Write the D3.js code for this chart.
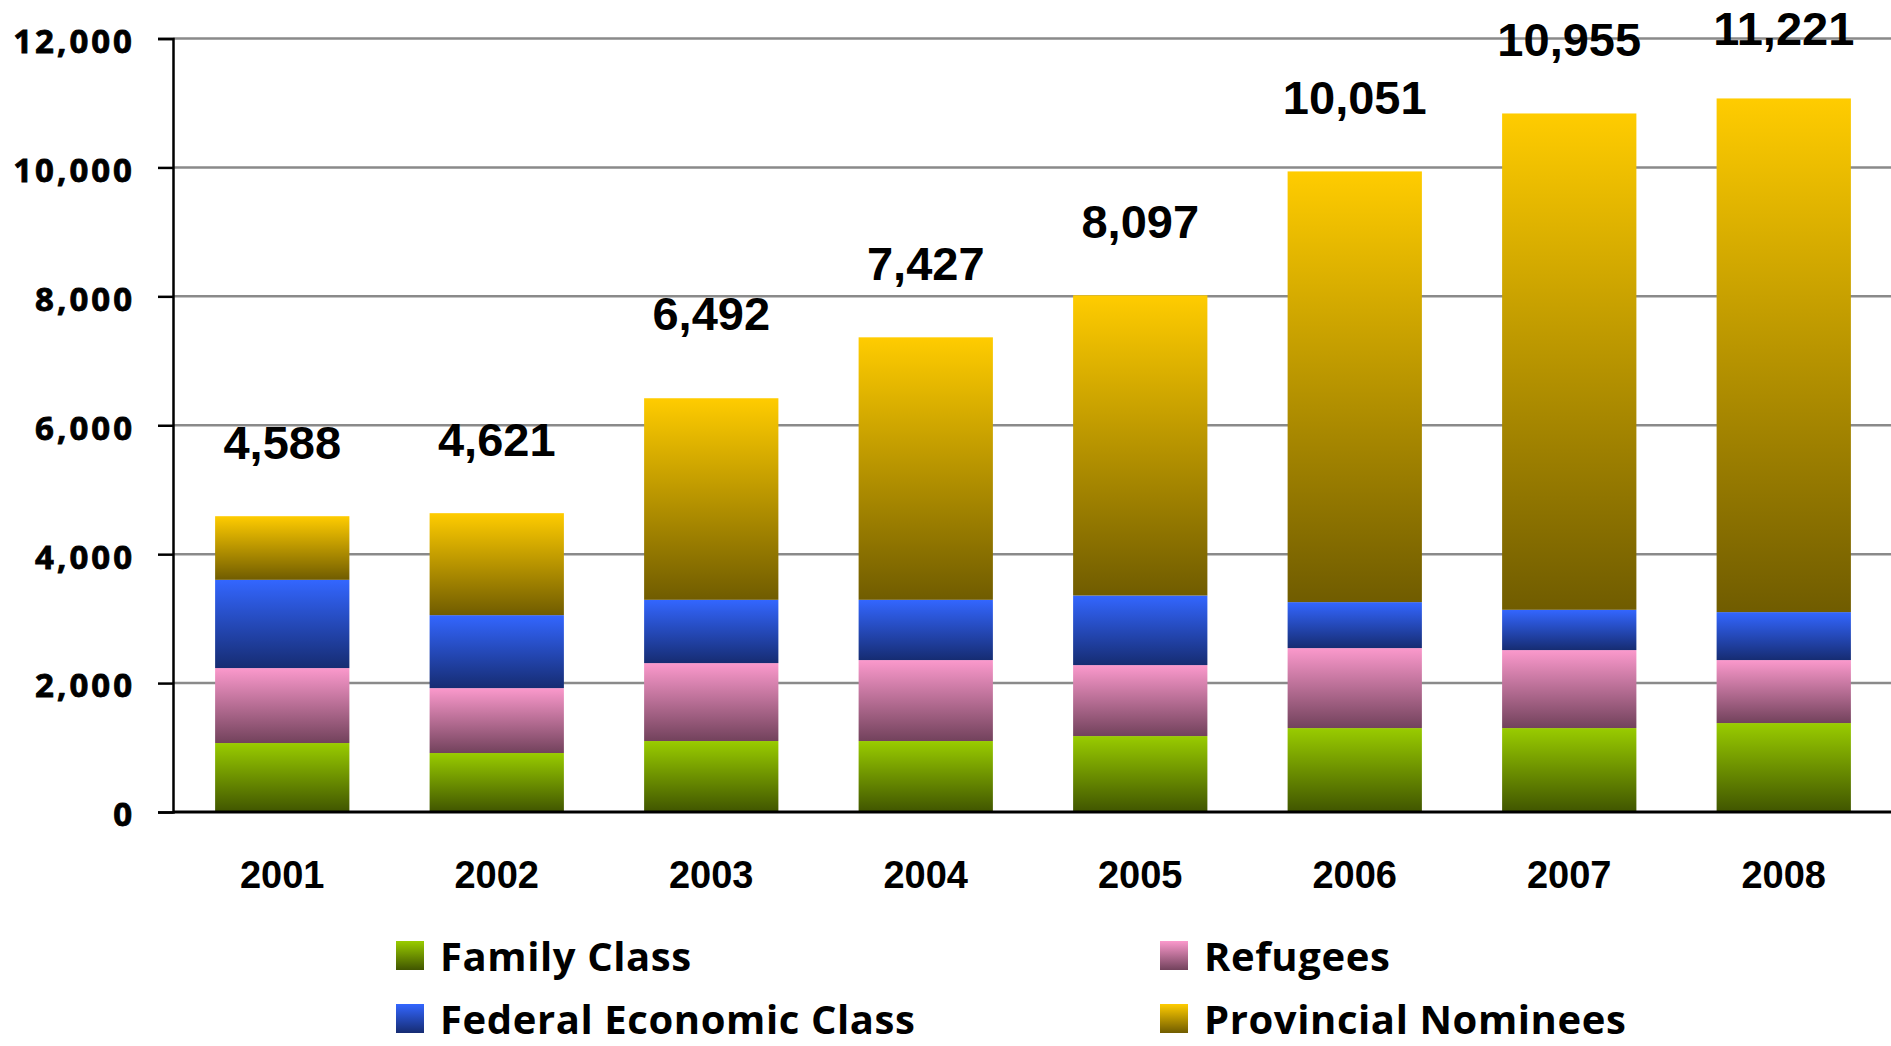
<!DOCTYPE html>
<html>
<head>
<meta charset="utf-8">
<script src="https://cdn.jsdelivr.net/npm/d3@7"></script>
<style>
    body { margin: 0; background: #fff; }
    svg { display: block; }
</style>
</head>
<body>
<div id="chart"></div>
<script>
const years = ["2001", "2002", "2003", "2004", "2005", "2006", "2007", "2008"];
const familyClass = [1070, 915, 1101, 1101, 1178, 1302, 1302, 1380];
const refugees = [1163, 1007, 1209, 1256, 1101, 1241, 1210, 977];
const federalEconomic = [1369, 1132, 982, 935, 1080, 713, 625, 744];
const provincialNominees = [987, 1582, 3127, 4072, 4657, 6682, 7700, 7969];
const totalLabels = ["4,588", "4,621", "6,492", "7,427", "8,097", "10,051", "10,955", "11,221"];
const yTicks = [0, 2000, 4000, 6000, 8000, 10000, 12000];
const seriesNames = ["Family Class", "Refugees", "Federal Economic Class", "Provincial Nominees"];

class ImmigrationChart{
    constructor(){
        this.width = 1891;
        this.height = 1046;
        this.axisX = 173;
        this.svg = d3.select("#chart").append("svg")
            .attr("width", this.width)
            .attr("height", this.height);
        this.series = [
            {key: "family", name: seriesNames[0], values: familyClass, top: "#99cc00", bottom: "#405500"},
            {key: "refugees", name: seriesNames[1], values: refugees, top: "#fb99cc", bottom: "#72425c"},
            {key: "federal", name: seriesNames[2], values: federalEconomic, top: "#3366ff", bottom: "#162c72"},
            {key: "provincial", name: seriesNames[3], values: provincialNominees, top: "#ffcc00", bottom: "#705c00"}
        ];
    }

    init = () => {
        this.x = d3.scaleBand().domain(years).range([175, 1891]).paddingInner(0.374).paddingOuter(0.187);
        this.y = d3.scaleLinear().domain([0, 12000]).range([812, 38.5]);
        this.makeGradients();
        this.drawAxes();
        this.drawBars();
        this.drawLabels();
        this.drawLegend();
    }

    makeGradients = () => {
        let defs = this.svg.append("defs");
        this.series.forEach(s => {
            let g = defs.append("linearGradient")
                .attr("id", `grad-${s.key}`)
                .attr("x1", 0).attr("y1", 0).attr("x2", 0).attr("y2", 1);
            g.append("stop").attr("offset", "0%").attr("stop-color", s.top);
            g.append("stop").attr("offset", "100%").attr("stop-color", s.bottom);
        });
    }

    drawAxes = () => {
        let grid = this.svg.append("g");
        grid.selectAll("line")
            .data(yTicks.filter(t => t > 0))
            .enter().append("line")
            .attr("x1", this.axisX).attr("x2", this.width)
            .attr("y1", d => this.y(d)).attr("y2", d => this.y(d))
            .attr("stroke", "#8a8a8a")
            .attr("stroke-width", 2.5);

        let yAxis = d3.axisLeft(this.y).tickValues(yTicks).tickSize(15).tickFormat(d3.format(","));
        let ax = this.svg.append("g")
            .attr("transform", `translate(${this.axisX},0)`)
            .call(yAxis);
        ax.select(".domain").attr("stroke", "#000").attr("stroke-width", 2.5);
        ax.selectAll(".tick line").attr("stroke", "#000").attr("stroke-width", 2.5);
        ax.selectAll(".tick text")
            .attr("x", -38)
            .attr("dy", "0.42em")
            .attr("fill", "#000")
            .attr("stroke", "#000")
            .attr("stroke-width", 0.8)
            .style("font-family", "'Open Sans', sans-serif")
            .style("font-weight", "bold")
            .style("font-size", "33px")
            .style("letter-spacing", "3px");
    }

    drawBars = () => {
        let stackData = years.map((yr, i) => {
            let row = {year: yr};
            this.series.forEach(s => row[s.key] = s.values[i]);
            return row;
        });
        let stack = d3.stack().keys(this.series.map(s => s.key));
        let layers = stack(stackData);

        this.svg.append("g").selectAll("g")
            .data(layers)
            .enter().append("g")
            .attr("fill", d => `url(#grad-${d.key})`)
            .selectAll("rect")
            .data(d => d)
            .enter().append("rect")
            .attr("x", d => this.x(d.data.year))
            .attr("width", this.x.bandwidth())
            .attr("y", d => this.y(d[1]))
            .attr("height", d => this.y(d[0]) - this.y(d[1]));

        this.totals = layers[layers.length - 1].map(d => d[1]);

        // baseline over the bars
        this.svg.append("line")
            .attr("x1", this.axisX).attr("x2", this.width)
            .attr("y1", this.y(0)).attr("y2", this.y(0))
            .attr("stroke", "#000")
            .attr("stroke-width", 3);
    }

    drawLabels = () => {
        this.svg.append("g").selectAll("text")
            .data(years)
            .enter().append("text")
            .attr("x", d => this.x(d) + this.x.bandwidth() / 2)
            .attr("y", 888)
            .attr("text-anchor", "middle")
            .style("font-family", "'Liberation Sans', Arial, sans-serif")
            .style("font-weight", "bold")
            .style("font-size", "38px")
            .text(d => d);

        // keep the top label inside the picture
        this.svg.append("g").selectAll("text")
            .data(years)
            .enter().append("text")
            .attr("x", d => this.x(d) + this.x.bandwidth() / 2)
            .attr("y", (d, i) => Math.max(45, this.y(this.totals[i]) - (i == 2 ? 68 : 57)))
            .attr("text-anchor", "middle")
            .style("font-family", "'Liberation Sans', Arial, sans-serif")
            .style("font-weight", "bold")
            .style("font-size", "47px")
            .text((d, i) => totalLabels[i]);
    }

    drawLegend = () => {
        let spots = [[396, 941], [1160, 941], [396, 1004], [1160, 1004]];
        let items = this.svg.append("g").selectAll("g")
            .data(this.series)
            .enter().append("g")
            .attr("transform", (d, i) => `translate(${spots[i][0]},${spots[i][1]})`);
        items.append("rect")
            .attr("width", 28).attr("height", 29)
            .attr("fill", d => `url(#grad-${d.key})`);
        items.append("text")
            .attr("x", 44)
            .attr("y", 30)
            .style("font-family", "'Open Sans', sans-serif")
            .style("font-weight", "bold")
            .style("font-size", "40px")
            .style("letter-spacing", "0.6px")
            .text(d => d.name);
    }
}

new ImmigrationChart().init();
</script>
</body>
</html>
